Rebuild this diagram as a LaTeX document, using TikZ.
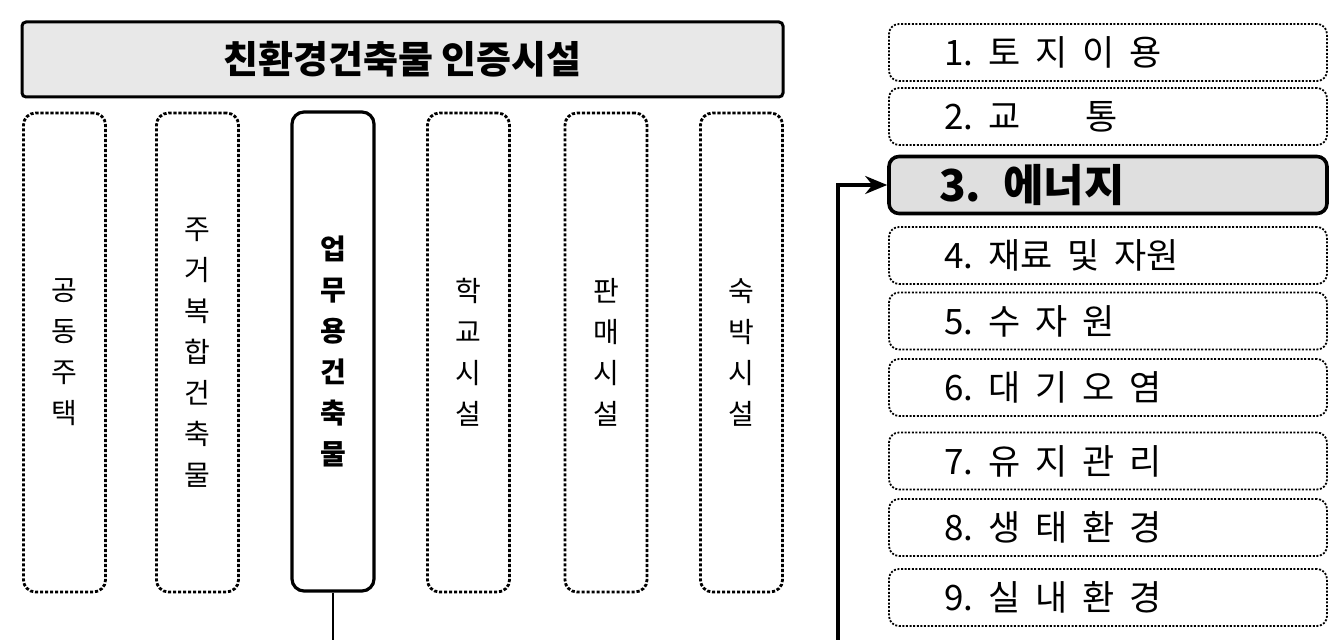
\documentclass[tikz,border=0pt]{standalone}
\usepackage{fontspec}
\newfontfamily\kr{Noto Sans CJK KR}
\newcommand\gp{\hspace{7.5pt}}
\usetikzlibrary{arrows.meta}
\begin{document}
\begin{tikzpicture}[x=0.5pt,y=-0.5pt,
  banner/.style={draw, line width=1.5pt, rounded corners=2pt, fill=gray!18,
    minimum width=380.5pt, minimum height=37.5pt, inner sep=0pt,
    font=\kr\bfseries\fontsize{19}{22}\selectfont},
  colbase/.style={draw, rounded corners=6pt, minimum width=41pt, minimum height=239.5pt,
    inner sep=0pt, align=center, font=\kr\fontsize{14}{20.5}\selectfont},
  coldash/.style={colbase, line width=1.4pt, dash pattern=on 1.6pt off 0.9pt},
  colsolid/.style={colbase, line width=1.6pt, font=\kr\bfseries\fontsize{14}{20.5}\selectfont},
  itembase/.style={draw, rounded corners=5pt, minimum width=219pt, minimum height=28.5pt,
    inner xsep=27.5pt, inner ysep=0pt, text width=164pt, align=left},
  item/.style={itembase, line width=0.9pt, dash pattern=on 1pt off 0.8pt,
    font=\kr\fontsize{17.5}{20}\selectfont},
  itemsel/.style={itembase, line width=1.8pt, fill=gray!25, inner xsep=25pt, text width=169pt,
    font=\kr\bfseries\fontsize{22}{24}\selectfont},
  link/.style={line width=1.3pt},
  feed/.style={line width=1.6pt, -{Stealth[length=11pt,width=9pt]}}
]
\useasboundingbox (0,0) rectangle (1341,640);

\node[banner] (top) at (402.5,59.5) {친환경건축물 인증시설};

\node[coldash]  (c1) at (64.5,352.5)  {공\\동\\주\\택};
\node[coldash]  (c2) at (197.5,352.5) {주\\거\\복\\합\\건\\축\\물};
\node[colsolid] (c3) at (333,351.5)   {업\\무\\용\\건\\축\\물};
\node[coldash]  (c4) at (468.5,352.5) {학\\교\\시\\설};
\node[coldash]  (c5) at (606,352.5)   {판\\매\\시\\설};
\node[coldash]  (c6) at (741.5,352.5) {숙\\박\\시\\설};

\node[item]    (e1) at (1108,52.5)  {1.\gp 토\gp 지\gp 이\gp 용};
\node[item]    (e2) at (1108,116.5) {2.\gp 교\gp 　\gp 통};
\node[itemsel] (e3) at (1108,185)   {3. 에너지};
\node[item]    (e4) at (1108,255.5) {4.\gp 재료\gp 및\gp 자원};
\node[item]    (e5) at (1108,321)   {5.\gp 수\gp 자\gp 원};
\node[item]    (e6) at (1108,387.5) {6.\gp 대\gp 기\gp 오\gp 염};
\node[item]    (e7) at (1108,461)   {7.\gp 유\gp 지\gp 관\gp 리};
\node[item]    (e8) at (1108,527.5) {8.\gp 생\gp 태\gp 환\gp 경};
\node[item]    (e9) at (1108,597.5) {9.\gp 실\gp 내\gp 환\gp 경};

\coordinate (b1) at (333,640);
\coordinate (b2) at (838,640);
\draw[link] (c3.south) -- (b1);
\draw[feed] (b2) |- (e3.west);
\end{tikzpicture}
\end{document}
